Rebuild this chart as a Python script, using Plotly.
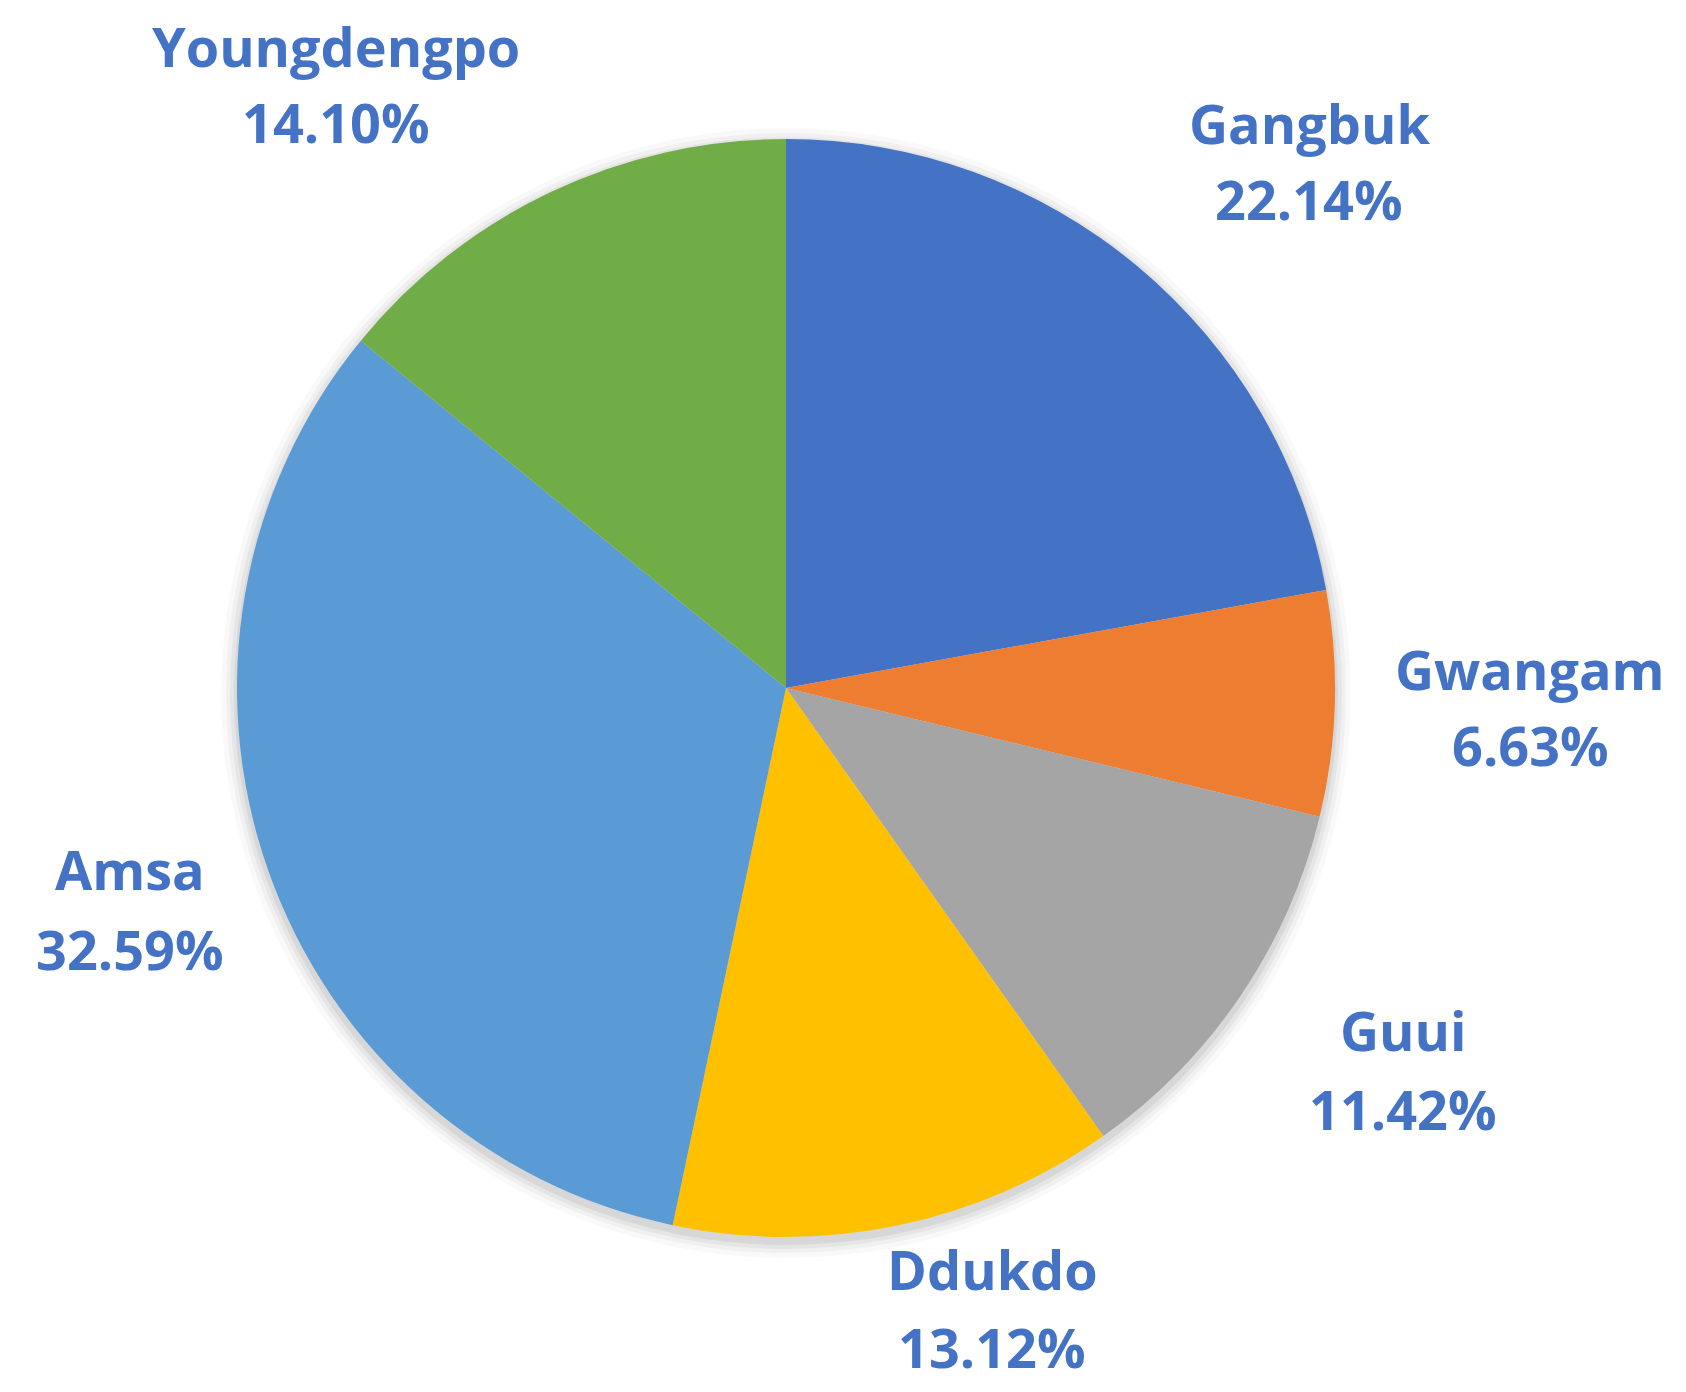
import plotly.graph_objects as go

# district share data
districts = ["Gangbuk", "Gwangam", "Guui", "Ddukdo", "Amsa", "Youngdengpo"]
shares = [22.14, 6.63, 11.42, 13.12, 32.59, 14.10]
slice_colors = ["#4472C4", "#ED7D31", "#A5A5A5", "#FFC000", "#5B9BD5", "#70AD47"]

W, H = 1686, 1392
CX, CY, R = 778, 680, 549  # pie centre / radius in px (from top-left)

# label placement in px: (x centre, name line y, percent line y) - layout only
label_pos = {
    "Gangbuk": (1301, 115, 191),
    "Gwangam": (1522, 661, 737),
    "Guui": (1395, 1022, 1101),
    "Ddukdo": (984, 1261, 1339),
    "Amsa": (122, 861, 941),
    "Youngdengpo": (328, 38, 114),
}

fig = go.Figure(go.Pie(
    labels=districts,
    values=shares,
    sort=False,
    direction="clockwise",
    rotation=0,
    marker=dict(colors=slice_colors, line=dict(width=0)),
    textinfo="none",
    hoverinfo="label+percent",
    domain=dict(x=[(CX - R) / W, (CX + R) / W], y=[(H - CY - R) / H, (H - CY + R) / H]),
    showlegend=False,
))

# fake soft shadow: stacked faint circles behind the pie
for grow, alpha in [(16, 0.025), (11, 0.035), (7, 0.045), (3, 0.06)]:
    fig.add_shape(type="circle", xref="paper", yref="paper",
                  xsizemode="pixel", ysizemode="pixel",
                  xanchor=CX / W, yanchor=(H - CY) / H,
                  x0=-R - grow, x1=R + grow, y0=-R - grow - 5, y1=R + grow - 5,
                  fillcolor=f"rgba(0,0,0,{alpha})", line_width=0, layer="below")

label_font = dict(family="Open Sans", size=54, color="#4472C4", weight=700)
for name, val in zip(districts, shares):
    px, y1, y2 = label_pos[name]
    for txt, py in [(name, y1), (f"{val:.2f}%", y2)]:
        fig.add_annotation(
            x=px / W, y=1 - py / H, xref="paper", yref="paper",
            text=txt, showarrow=False, font=label_font,
            xanchor="center", yanchor="middle", borderpad=0,
        )

fig.update_layout(
    width=W, height=H,
    margin=dict(l=0, r=0, t=0, b=0),
    paper_bgcolor="white", plot_bgcolor="white",
)

fig.write_html("out.html")
